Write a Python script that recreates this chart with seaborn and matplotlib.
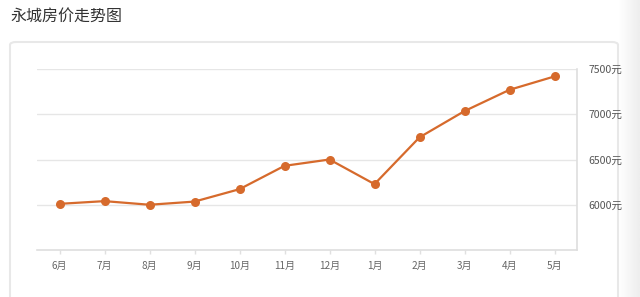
import matplotlib
matplotlib.use("Agg")
import matplotlib.pyplot as plt
from matplotlib.patches import FancyBboxPatch, Rectangle
import seaborn as sns
import pandas as pd
import numpy as np

months = ["6月", "7月", "8月", "9月", "10月", "11月", "12月", "1月", "2月", "3月", "4月", "5月"]
prices = [6010, 6040, 6000, 6035, 6172, 6430, 6500, 6228, 6745, 7035, 7270, 7418]
yticks = [6000, 6500, 7000, 7500]
title = "永城房价走势图"

sns.set_theme(style="white")
plt.rcParams["font.family"] = ["Noto Sans CJK SC", "DejaVu Sans"]

df = pd.DataFrame({"month": months, "price": prices})

fig = plt.figure(figsize=(6.4, 2.97), dpi=100)
fig.patch.set_facecolor("white")

# right gray gradient strip and panel border
grad = np.linspace(1.0, 0.93, 64).reshape(1, -1)
bg = fig.add_axes([618/640, 0, 22/640, 1], zorder=-2)
bg.imshow(grad, aspect="auto", cmap="gray", vmin=0, vmax=1, extent=(0, 1, 0, 1))
bg.axis("off")
fig.add_artist(FancyBboxPatch((10/640, -0.05), 608/640, (297-42)/297 + 0.05,
                              boxstyle="round,pad=0,rounding_size=0.01",
                              transform=fig.transFigure, facecolor="white",
                              edgecolor="#e8e8e8", lw=1.5, zorder=0))

ax = fig.add_axes([37/640, 1 - 250/297, (577-37)/640, (250-69)/297])
ax.set_facecolor("none")

sns.lineplot(data=df, x="month", y="price", sort=False, ax=ax,
             color="#d66a2c", lw=1.6, marker="o", markersize=6.5,
             markeredgewidth=0, zorder=3)

ax.set_xlim(-0.5, len(months) - 0.5)
ax.set_ylim(5500, 7500)
ax.set_yticks(yticks)
ax.set_yticklabels([f"{v}元" for v in yticks])
ax.yaxis.tick_right()
ax.set_xlabel("")
ax.set_ylabel("")

ax.grid(axis="y", color="#e6e6e6", lw=1)
ax.grid(axis="x", visible=False)
for s in ["left", "top"]:
    ax.spines[s].set_visible(False)
for s in ["right", "bottom"]:
    ax.spines[s].set_color("#dedede")
    ax.spines[s].set_linewidth(1.2)

ax.tick_params(axis="y", length=0, pad=8, labelsize=7.6, labelcolor="#555555")
ax.tick_params(axis="x", length=3, width=1, color="#e0e0e0", pad=5,
               labelsize=7.2, labelcolor="#666666", bottom=True)

fig.text(10/640, 1 - 16/297, title, fontsize=11.5, color="#333333",
         ha="left", va="center")

fig.savefig("out.png", dpi=100)
